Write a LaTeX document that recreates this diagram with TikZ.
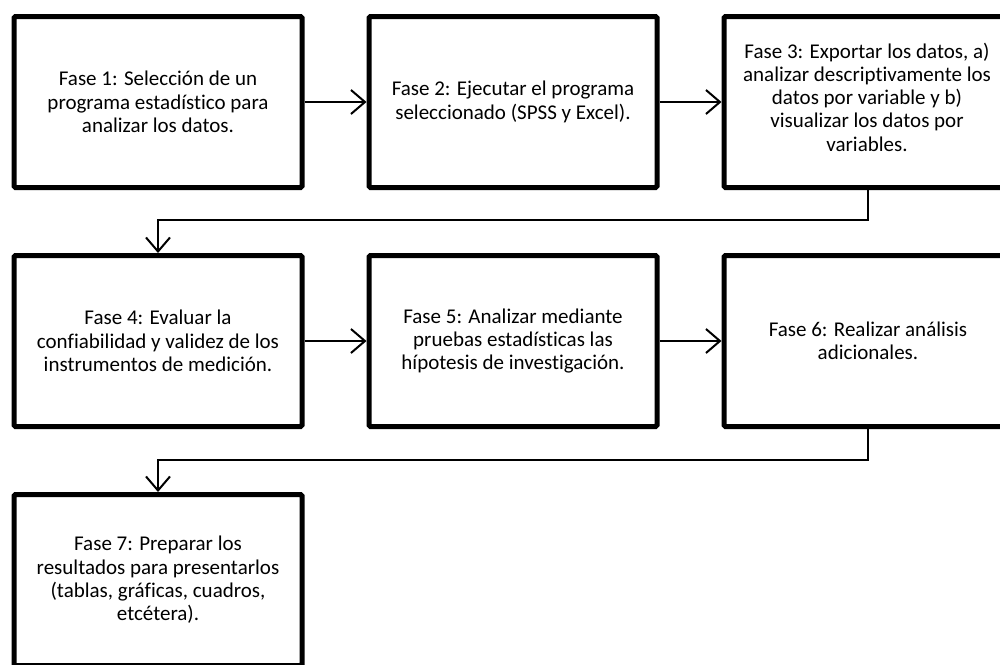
\documentclass[tikz,border=0pt]{standalone}
\usepackage{fontspec}
\setmainfont{Carlito}[Ligatures=NoCommon]
\usetikzlibrary{arrows.meta}
\begin{document}
\begin{tikzpicture}[x=1pt,y=-1pt,
  fasefont/.style={font=\fontsize{21}{23.3}\selectfont},
  fasebox/.style={draw=black, line width=5pt, rounded corners=1.5pt, minimum width=288pt, minimum height=171pt, inner sep=0pt, align=center, fasefont},
  arr/.style={draw=black, line width=2pt, -{Straight Barb[length=14pt, width=24pt, line width=2pt]}}]
\clip (0,0) rectangle (1000,664);
\fill[white] (0,0) rectangle (1000,664);
\node[fasebox] (b1) at (158,102) {Fase 1: Selección de un\\programa estadístico para\\analizar los datos.};
\node[fasebox] (b2) at (513,102) {Fase 2: Ejecutar el programa\\seleccionado (SPSS y Excel).};
\node[fasebox] (b3) at (868,102) {};
\node[align=center, fasefont] (t3) at (867,97) {Fase 3: Exportar los datos, a)\\analizar descriptivamente los\\datos por variable y b)\\visualizar los datos por\\variables.};
\node[fasebox] (b4) at (158,341) {Fase 4: Evaluar la\\confiabilidad y validez de los\\instrumentos de medición.};
\node[fasebox] (b5) at (513,341) {Fase 5: Analizar mediante\\pruebas estadísticas las\\hípotesis de investigación.};
\node[fasebox] (b6) at (868,341) {Fase 6: Realizar análisis\\adicionales.};
\node[fasebox] (b7) at (158,580) {Fase 7: Preparar los\\resultados para presentarlos\\(tablas, gráficas, cuadros,\\etcétera).};
\coordinate (m1) at (500,220);
\coordinate (m2) at (500,460);
\draw[arr] (b1) -- (b2);
\draw[arr] (b2) -- (b3);
\draw[arr] (b4) -- (b5);
\draw[arr] (b5) -- (b6);
\draw[arr] (b3.south) |- (m1) -| (b4.north);
\draw[arr] (b6.south) |- (m2) -| (b7.north);
\end{tikzpicture}
\end{document}
